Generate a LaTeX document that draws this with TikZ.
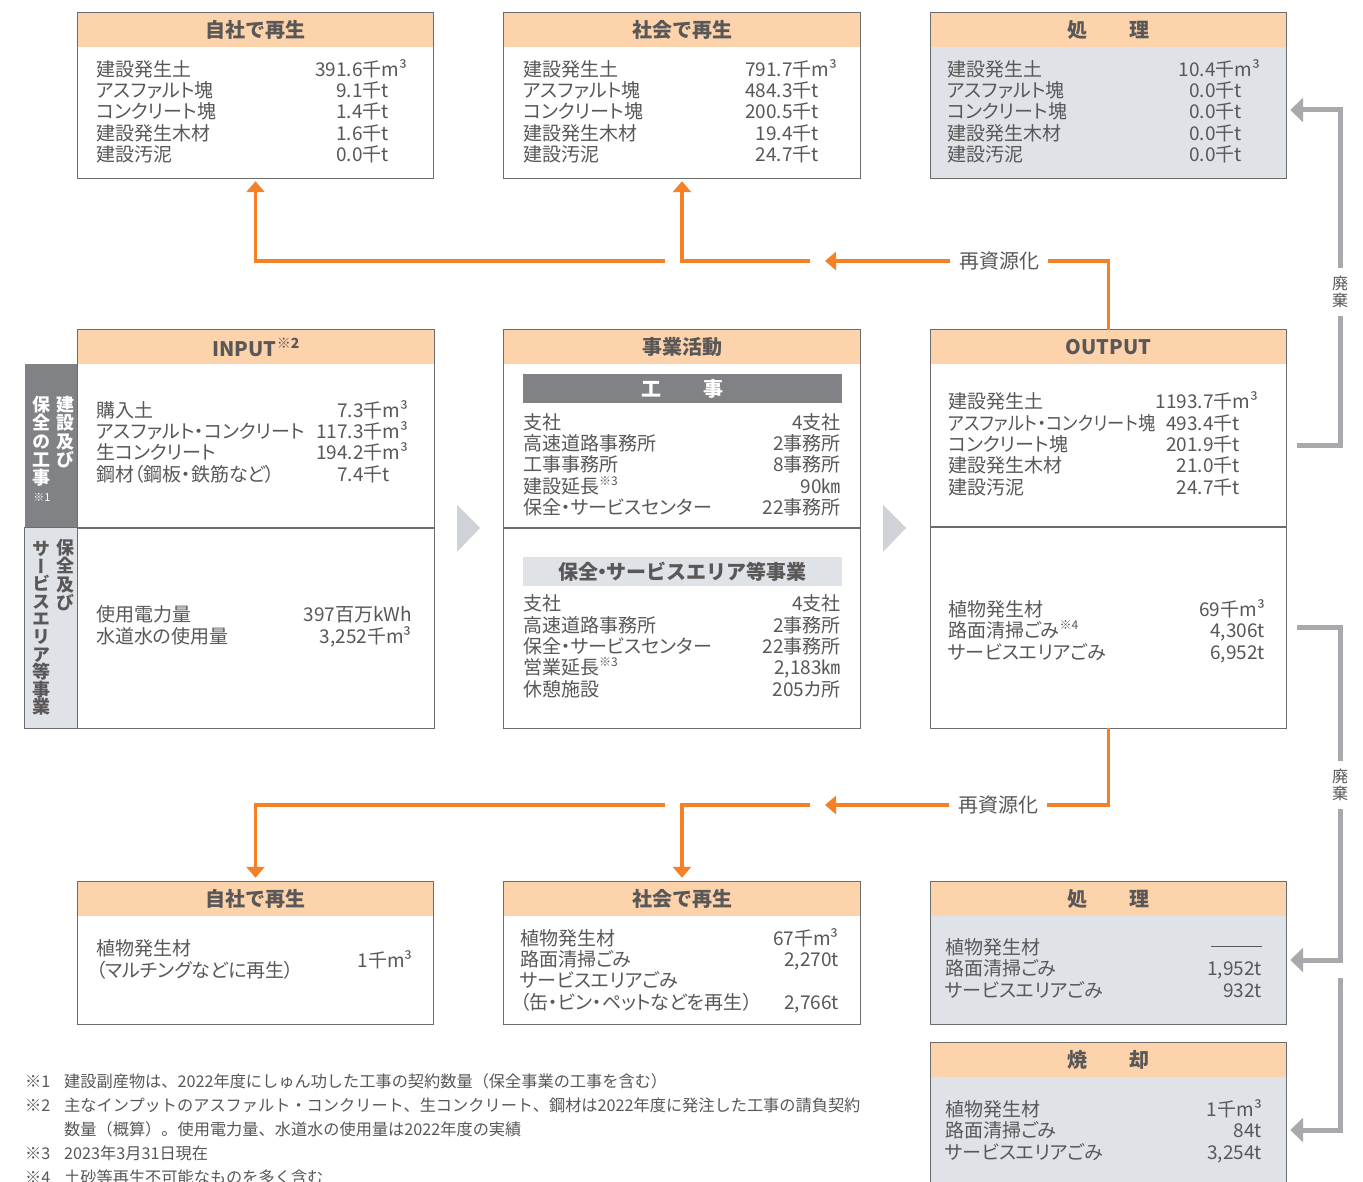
\documentclass[tikz,border=0pt]{standalone}
\usepackage{fontspec}
\usepackage{graphicx}
\setmainfont{Noto Sans CJK JP}[RawFeature={+palt}]
\newfontfamily\jpt{Noto Sans CJK JP}
\newfontfamily\jpv{Noto Sans CJK JP}[RawFeature={+vert}]
\usetikzlibrary{arrows.meta,fit}
\definecolor{peach}{RGB}{252,211,171}
\definecolor{panelgray}{RGB}{223,227,232}
\definecolor{tabdark}{RGB}{128,130,133}
\definecolor{edgec}{RGB}{108,108,110}
\definecolor{txt}{RGB}{89,87,87}
\definecolor{orng}{RGB}{245,128,37}
\definecolor{wgray}{RGB}{167,169,172}
\definecolor{chev}{RGB}{207,211,215}
\newcommand\sups[1]{\raisebox{0.42em}{\fontsize{12}{12}\selectfont #1}}
\newcommand\mkpanel[7]{%
  \node[fit={(#2,#3)(#4,#5)}, inner sep=0pt, fill=#6] (#1) {};
  \node[fit={(#2,#3)(#4,#3+34)}, inner sep=0pt, fill=peach] (#1h) {};
  \node[titletext] (#1t) at (#1h.center) {#7};
  \draw[edgeline] (#1.north west) rectangle (#1.south east);
}
\begin{document}
% note: a multi-line node's base anchor is the baseline of its LAST line
\begin{tikzpicture}[x=1pt,y=-1pt,
  edgeline/.style={draw=edgec, line width=1.3pt},
  titletext/.style={font=\jpt\bfseries\fontsize{20}{24}\selectfont, text=txt, inner sep=0pt},
  bodytext/.style={font=\fontsize{19}{21.3}\selectfont, text=txt, align=left, inner sep=0pt, anchor=base west},
  valtext/.style={font=\fontsize{19}{21.3}\selectfont, text=txt, align=right, inner sep=0pt, anchor=base east},
  tabtext/.style={font=\jpv\bfseries\fontsize{18}{18.3}\selectfont, align=center, inner sep=0pt, anchor=north},
  bartext/.style={font=\jpt\bfseries\fontsize{20}{24}\selectfont, inner sep=0pt},
  relabel/.style={font=\fontsize{20}{24}\selectfont, text=txt, inner xsep=9pt, inner ysep=2pt},
  wastelabel/.style={font=\jpt\fontsize{16}{17}\selectfont, text=txt, align=center, inner xsep=2pt, inner ysep=8pt},
  orangeline/.style={draw=orng, line width=3.5pt},
  orangearrow/.style={orangeline, -{Triangle[width=18pt,length=11pt]}},
  wasteline/.style={draw=wgray, line width=5pt},
  wastearrow/.style={wasteline, -{Triangle[width=24pt,length=13pt]}},
  notetext/.style={font=\jpt\fontsize{16.2}{23.8}\selectfont, text=txt, align=left, inner sep=0pt, anchor=base west}
]
\useasboundingbox (0,0) rectangle (1363,1182);
\fill[white] (0,0) rectangle (1363,1182);

% ---------- top row ----------
\mkpanel{sjT}{78}{13}{433}{178}{white}{自社で再生}
\node[bodytext] (sjTl) at (96,161.5) {建設発生土\\アスファルト塊\\コンクリート塊\\建設発生木材\\建設汚泥};
\node[valtext] (sjTv) at (382,161.5) {391.6千\rlap{m³}\\9.1千\rlap{t}\\1.4千\rlap{t}\\1.6千\rlap{t}\\0.0千\rlap{t}};

\mkpanel{skT}{504}{13}{860}{178}{white}{社会で再生}
\node[bodytext] (skTl) at (523,161.5) {建設発生土\\アスファルト塊\\コンクリート塊\\建設発生木材\\建設汚泥};
\node[valtext] (skTv) at (812,161.5) {791.7千\rlap{m³}\\484.3千\rlap{t}\\200.5千\rlap{t}\\19.4千\rlap{t}\\24.7千\rlap{t}};

\mkpanel{shT}{931}{13}{1286}{178}{panelgray}{処\hspace{2.15em}理}
\node[bodytext] (shTl) at (947,161.5) {建設発生土\\アスファルト塊\\コンクリート塊\\建設発生木材\\建設汚泥};
\node[valtext] (shTv) at (1235,161.5) {10.4千\rlap{m³}\\0.0千\rlap{t}\\0.0千\rlap{t}\\0.0千\rlap{t}\\0.0千\rlap{t}};

% ---------- middle row ----------
\node[fit={(25,364)(78,528)}, inner sep=0pt, fill=tabdark] (tabA) {};
\node[fit={(25,528)(78,728)}, inner sep=0pt, fill=panelgray] (tabB) {};
\draw[edgeline] (tabB.north west) rectangle (tabB.south east);
\node[tabtext, text=white] (tabA1) at (65,396) {建\\設\\及\\び};
\node[tabtext, text=white] (tabA2) at (41,396) {保\\全\\の\\工\\事};
\node[font=\fontsize{11}{11}\selectfont, text=white, inner sep=0pt] (tabA3) at (42,497) {※1};
\node[tabtext, text=txt] (tabB1) at (65,539) {保\\全\\及\\び};
\node[tabtext, text=txt, font=\jpv\bfseries\fontsize{18}{17.6}\selectfont] (tabB2) at (41,541) {サ\\ー\\ビ\\ス\\エ\\リ\\ア\\等\\事\\業};

\mkpanel{inp}{78}{330}{434}{728}{white}{INPUT\raisebox{0.4em}{\fontsize{14}{14}\selectfont ※2}}
\draw[edgeline] (78,528) -- (434,528);
\node[bodytext] (inpUl) at (96,481) {購入土\\アスファルト・コンクリート\\生コンクリート\\鋼材（鋼板・鉄筋など）};
\node[valtext] (inpUv) at (383,481) {7.3千\rlap{m³}\\117.3千\rlap{m³}\\194.2千\rlap{m³}\\7.4千\rlap{t}};
\node[bodytext] (inpLl) at (96,643) {使用電力量\\水道水の使用量};
\node[valtext] (inpLv) at (412,643) {397百万kWh\\3,252千m³};

\mkpanel{act}{504}{330}{860}{728}{white}{事業活動}
\draw[edgeline] (504,528) -- (860,528);
\node[fit={(523,374)(842,403)}, inner sep=0pt, fill=tabdark] (barA) {};
\node[bartext, text=white] (barAt) at (barA.center) {工\hspace{2.15em}事};
\node[fit={(523,557)(842,586)}, inner sep=0pt, fill=panelgray] (barB) {};
\node[bartext, text=txt] (barBt) at (barB.center) {保全\hspace{-0.28em}・\hspace{-0.28em}サービスエリア等事業};
\node[bodytext] (actUl) at (523,514.5) {支社\\高速道路事務所\\工事事務所\\建設延長\sups{※3}\\保全・サービスセンター};
\node[valtext] (actUv) at (841,514.5) {4支社\\2事務所\\8事務所\\90㎞\\22事務所};
\node[bodytext] (actLl) at (523,696) {支社\\高速道路事務所\\保全・サービスセンター\\営業延長\sups{※3}\\休憩施設};
\node[valtext] (actLv) at (841,696) {4支社\\2事務所\\22事務所\\2,183㎞\\205カ所};

\mkpanel{out}{931}{330}{1286}{728}{white}{OUTPUT}
\node[fit={(931,364)(1286,527)}, inner sep=0pt] (outU) {};
\node[fit={(931,527)(1286,728)}, inner sep=0pt] (outL) {};
\draw[edgeline] (931,527) -- (1286,527);
\node[bodytext] (outUl) at (948,494) {建設発生土\\\scalebox{0.91}[1]{アスファルト・コンクリート塊}\\コンクリート塊\\建設発生木材\\建設汚泥};
\node[valtext] (outUv) at (1233,494) {1193.7千\rlap{m³}\\493.4千\rlap{t}\\201.9千\rlap{t}\\21.0千\rlap{t}\\24.7千\rlap{t}};
\node[bodytext] (outLl) at (948,659) {植物発生材\\路面清掃ごみ\sups{※4}\\サービスエリアごみ};
\node[valtext] (outLv) at (1265,659) {69千m³\\4,306t\\6,952t};

% chevrons
\fill[chev] (457,505) -- (480,528) -- (457,552) -- cycle;
\fill[chev] (883,505) -- (906,528) -- (883,552) -- cycle;

% ---------- bottom row ----------
\mkpanel{sjB}{78}{882}{433}{1024}{white}{自社で再生}
\node[bodytext] (sjBl) at (96,977) {植物発生材\\（マルチングなどに再生）};
\node[valtext] (sjBv) at (413,967) {1千m³};

\mkpanel{skB}{504}{882}{860}{1024}{white}{社会で再生}
\node[bodytext] (skBl) at (520,1009) {植物発生材\\路面清掃ごみ\\サービスエリアごみ\\（缶・ビン・ペットなどを再生）};
\node[valtext] (skBv) at (839,1009) {67千m³\\2,270t\\\mbox{}\\2,766t};

\mkpanel{shB}{931}{882}{1286}{1024}{panelgray}{処\hspace{2.15em}理}
\node[bodytext] (shBl) at (945,997) {植物発生材\\路面清掃ごみ\\サービスエリアごみ};
\node[valtext] (shBv) at (1262,997) {\rule[8pt]{51pt}{0.8pt}\\1,952t\\932t};

\mkpanel{yk}{931}{1043}{1286}{1217}{panelgray}{焼\hspace{2.15em}却}
\node[bodytext] (ykl) at (945,1159) {植物発生材\\路面清掃ごみ\\サービスエリアごみ};
\node[valtext] (ykv) at (1262,1159) {1千m³\\84t\\3,254t};

% ---------- orange recycling connectors ----------
\node[relabel] (rl1) at (999,261) {再資源化};
\coordinate (oa1) at (825,261);
\coordinate (ob1) at (810,261);
\coordinate (oc1) at (665,261);
\draw[orangeline] (out.north) |- (rl1.east);
\draw[orangearrow] (rl1.west) -- (oa1);
\draw[orangearrow, shorten >=3pt] (ob1) -| (skT.south);
\draw[orangearrow, shorten >=3pt] (oc1) -| (sjT.south);

\node[relabel] (rl2) at (998,805) {再資源化};
\coordinate (oa2) at (825,805);
\coordinate (ob2) at (810,805);
\coordinate (oc2) at (665,805);
\draw[orangeline] (out.south) |- (rl2.east);
\draw[orangearrow] (rl2.west) -- (oa2);
\draw[orangearrow, shorten >=4pt] (ob2) -| (skB.north);
\draw[orangearrow, shorten >=4pt] (oc2) -| (sjB.north);

% ---------- grey disposal connectors ----------
\node[wastelabel] (wl1) at (1340,292) {廃\\棄};
\draw[wasteline, shorten <=11pt] (outU.east) -| (wl1.south);
\draw[wastearrow, shorten >=4pt] (wl1.north) |- ([yshift=-14.5pt]shT.east);

\node[wastelabel] (wl2) at (1340,785) {廃\\棄};
\draw[wasteline, shorten <=11pt] (outL.east) -| (wl2.north);
\draw[wastearrow, shorten >=4pt] (wl2.south) |- ([yshift=-7pt]shB.east);
\coordinate (g3) at (1340,978);
\draw[wastearrow, shorten >=4pt] (g3) |- (yk.east);

% ---------- footnotes ----------
\node[notetext] (fnm) at (25,1183) {※1\\※2\\\mbox{}\\※3\\※4};
\node[notetext] (fnt) at (64,1183) {建設副産物は、2022年度にしゅん功した工事の契約数量（保全事業の工事を含む）\\主なインプットのアスファルト・コンクリート、生コンクリート、鋼材は2022年度に発注した工事の請負契約\\数量（概算）。使用電力量、水道水の使用量は2022年度の実績\\2023年3月31日現在\\土砂等再生不可能なものを多く含む};
\end{tikzpicture}
\end{document}
